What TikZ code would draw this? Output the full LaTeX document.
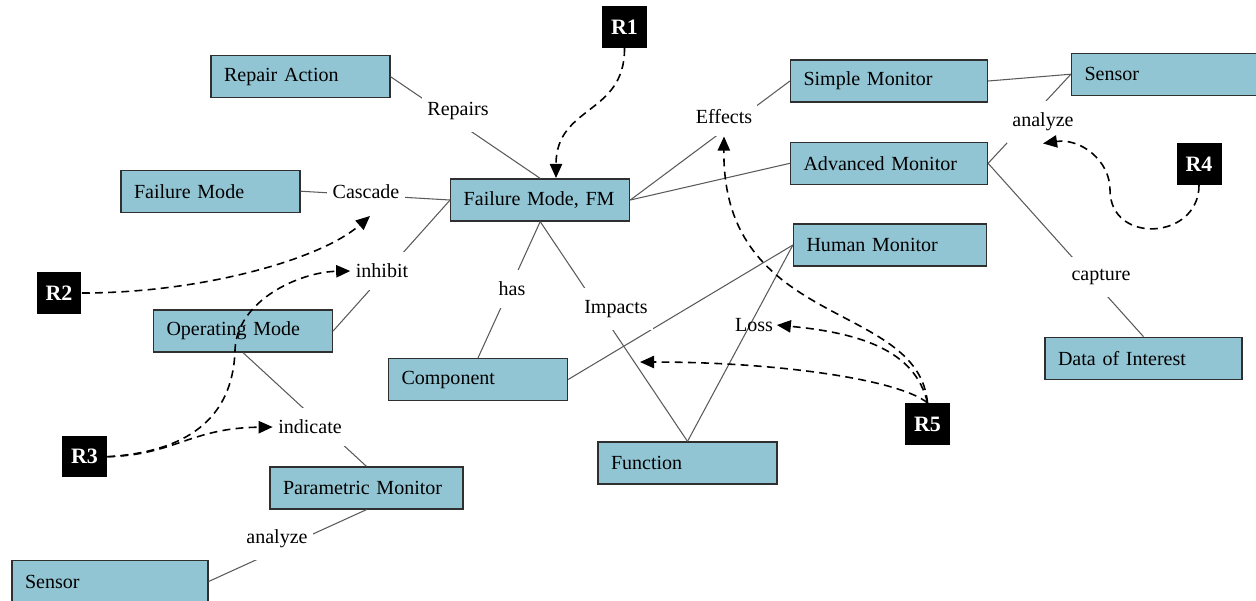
\documentclass[tikz,border=0pt]{standalone}
\usepackage{fontspec}
\setmainfont{Liberation Serif}
\usetikzlibrary{arrows.meta}
\definecolor{box-fill}{HTML}{92C5D4}
\definecolor{box-line}{HTML}{2F2F2F}
\definecolor{link-gray}{HTML}{5A5A5A}
\newcommand{\boxfont}{\fontsize{11.4}{13}\selectfont}

\begin{document}
\begin{tikzpicture}[x=0.02cm, y=-0.02cm,
    box/.style={draw=box-line, line width=0.7pt, fill=box-fill, text width=#1,
                inner xsep=0.26cm, inner ysep=0pt, minimum height=0.84cm,
                align=left, font=\boxfont},
    box/.default=3.06cm,
    link/.style={draw=link-gray, line width=0.6pt},
    lbl/.style={fill=white, inner xsep=3pt, inner ysep=0.24cm, font=\boxfont},
    rbox/.style={fill=black, text=white, minimum width=0.9cm, minimum height=0.83cm,
                 inner sep=0pt, font=\fontsize{12.5}{14}\selectfont\bfseries},
    ref/.style={dash pattern=on 4.5pt off 3pt, line width=0.9pt,
                -{Triangle[length=8pt,width=7pt]}}]
  \useasboundingbox (0,0) rectangle (1256,600);

  \node[box] (ra) at (300.5,76.7) {Repair Action};
  \node[box] (fml) at (210.5,191.2) {Failure Mode};
  \node[box] (fm) at (540.2,200) {Failure Mode, FM};
  \node[box=3.42cm] (sm) at (889,81) {Simple Monitor};
  \node[box=3.42cm] (sn1) at (1170,74.2) {Sensor};
  \node[box=3.42cm] (am) at (889,163.3) {Advanced Monitor};
  \node[box=3.34cm] (hm) at (890,245) {Human Monitor};
  \node[box] (om) at (243,331) {Operating Mode};
  \node[box] (comp) at (478,379.5) {Component};
  \node[box] (fn) at (687.5,463) {Function};
  \node[box=3.34cm] (pm) at (366.5,488) {Parametric Monitor};
  \node[box=3.42cm] (doi) at (1143.5,358.3) {Data of Interest};
  \node[box=3.4cm] (sn2) at (110,581.5) {Sensor};

  \draw[link] (ra.east) -- (fm.north);
  \draw[link] (fml.east) -- (fm.west);
  \draw[link] (om.east) -- (fm.west);
  \draw[link] (fm.south) -- (comp.north);
  \draw[link] (fm.south) -- (fn.north);
  \draw[link] (fm.east) -- (sm.west);
  \draw[link] (fm.east) -- (am.west);
  \draw[link] (sm.east) -- (sn1.west);
  \draw[link] (am.east) -- (sn1.west);
  \draw[link] (am.east) -- (doi.north);
  \draw[link] (comp.east) -- (hm.west);
  \draw[link] (fn.north) -- (hm.west);
  \draw[link] (om.south) -- (pm.north);
  \draw[link] (pm.south) -- (sn2.east);

  \node[lbl] (rep) at (458,111) {Repairs};
  \node[lbl] (casc) at (366,192) {Cascade};
  \node[lbl] (eff) at (724,117) {Effects};
  \node[lbl] (an1) at (1043,122) {analyze};
  \node[lbl] (inh) at (382,271) {inhibit};
  \node[lbl] (has) at (512,289) {has};
  \node[lbl] (imp) at (616,309) {Impacts};
  \node[font=\boxfont, inner sep=2pt] (loss) at (754,325) {Loss};
  \node[lbl] (capt) at (1101,277) {capture};
  \node[lbl] (ind) at (310,427) {indicate};
  \node[lbl] (an2) at (277,539) {analyze};

  \node[rbox] (r1) at (624.5,27) {R1};
  \node[rbox] (r2) at (59,293) {R2};
  \node[rbox] (r3) at (84.5,456.7) {R3};
  \node[rbox] (r4) at (1199,164) {R4};
  \node[rbox] (r5) at (927.5,424) {R5};

  \coordinate (fm-top) at (556,178);
  \coordinate (casc-tip) at (370,216);
  \coordinate (imp-tip) at (640,362);

  \draw[ref] (r1.south) .. controls (625,115) and (556,105) .. (fm-top);
  \draw[ref] (r2.east) .. controls (200,293) and (320,260) .. (casc-tip);
  \draw[ref] (r3.east) .. controls (185,452) and (233,420) .. (235,350)
    .. controls (237,300) and (300,272) .. (inh.west);
  \draw[ref] (r3.east) .. controls (175,455) and (190,428) .. (ind.west);
  \draw[ref] (r4.south) .. controls (1199,240) and (1110,245) .. (1110,190)
    .. controls (1110,160) and (1080,138) .. (an1.south);
  \draw[ref] (r5.north) .. controls (918,300) and (722,330) .. (eff.south);
  \draw[ref] (r5.north) .. controls (915,350) and (860,333) .. (loss.east);
  \draw[ref] (r5.north) .. controls (900,380) and (780,362) .. (imp-tip);
\end{tikzpicture}
\end{document}
